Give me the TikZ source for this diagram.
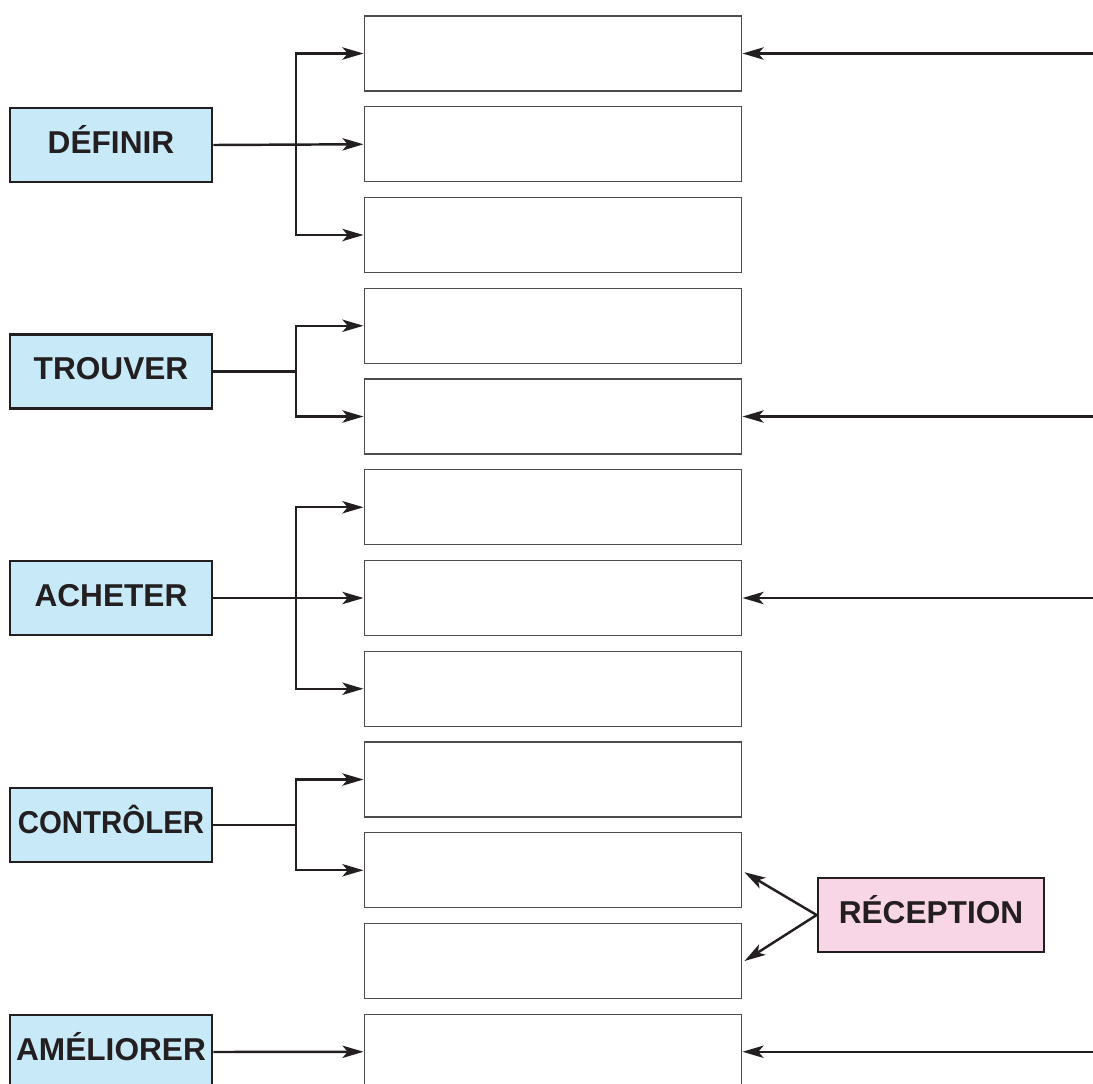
\documentclass[tikz,border=0pt]{standalone}
\usepackage{fontspec}
\setmainfont{Liberation Sans}
\usepackage{graphicx, xcolor}
\usepackage{tikz}
\usetikzlibrary{arrows.meta, positioning, calc}
\definecolor{bleuclair}{HTML}{C7E9F8}
\definecolor{roseclair}{HTML}{F9D6E6}
\definecolor{encre}{HTML}{231F20}
\tikzstyle{etape} = [rectangle, minimum width=4.04cm, minimum height=1.48cm, inner xsep=0pt, text height=16pt, text depth=6.5pt, text centered, draw=encre, line width=1.6pt, fill=bleuclair, text=encre, font=\fontsize{18}{20}\selectfont\bfseries]
\tikzstyle{arrow} = [line width=1.4pt, -{Stealth[length=12pt, width=7pt, inset=3pt]}, draw=encre]

\begin{document}
\begin{tikzpicture}[
		x=0.02cm, y=-0.02cm,
		case/.style={draw=black!70, line width=0.6pt, minimum width=7.56cm, minimum height=1.5cm},
		recep/.style={etape, fill=roseclair, minimum width=4.52cm},
		fourche/.style={arrow, {Stealth[length=12pt, width=7pt, inset=3pt]}-{Stealth[length=12pt, width=7pt, inset=3pt]}}
		]
		\useasboundingbox (0,0) rectangle (1093,1083);
		
		% Cases
		\foreach \i in {1,...,12}
		\node[case] (r\i) at (553, {53.5+(\i-1)*90.75}) {};
		
		% Etapes
		\node[etape] (def) at (111,145) {DÉFINIR};
		\node[etape] (tro) at (111,371.5) {TROUVER};
		\node[etape] (ach) at (111,598) {ACHETER};
		\node[etape] (con) at (111,825) {\scalebox{0.93}[1]{CONTRÔLER}};
		\node[etape] (ame) at (111,1052) {AMÉLIORER};
		\node[recep] (rec) at (931,915) {RÉCEPTION};
		
		\coordinate (bus) at (296,0);
		\coordinate (bord) at (1093,0);
		
		% Fleches
		\draw[arrow] (def.east) -- (r2.west);
		\draw[fourche] (r1.west) -| (bus |- r2.west) |- (r3.west);
		
		\draw[line width=1.4pt, draw=encre] (tro.east) -- (bus |- tro.east);
		\draw[fourche] (r4.west) -| (bus |- tro.east) |- (r5.west);
		
		\draw[arrow] (ach.east) -- (r7.west);
		\draw[fourche] (r6.west) -| (bus |- r7.west) |- (r8.west);
		
		\draw[line width=1.4pt, draw=encre] (con.east) -- (bus |- con.east);
		\draw[fourche] (r9.west) -| (bus |- con.east) |- (r10.west);
		
		\draw[arrow] (ame.east) -- (r12.west);
		
		\draw[arrow] (bord |- r1.east) -- (r1.east);
		\draw[arrow] (bord |- r5.east) -- (r5.east);
		\draw[arrow] (bord |- r7.east) -- (r7.east);
		\draw[arrow] (bord |- r12.east) -- (r12.east);
		
		\draw[arrow] (rec.west) -- ($(r10.east)+(2,2)$);
		\draw[arrow] (rec.west) -- ($(r11.east)+(2,0)$);
		
	\end{tikzpicture}
\end{document}
